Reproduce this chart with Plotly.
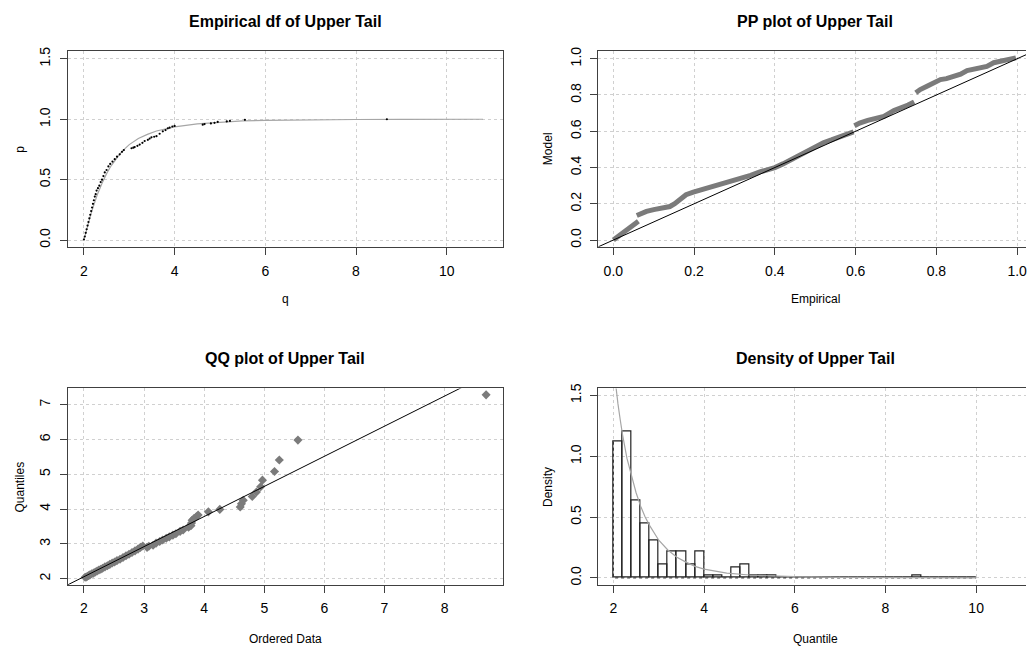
import plotly.graph_objects as go

W, H = 1027, 654
FONT = "Liberation Sans, Arial, sans-serif"

# ---------------- data ----------------
# Panel 1: empirical distribution function
ecdf_q = [2.00, 2.02, 2.04, 2.06, 2.08, 2.10, 2.12, 2.14, 2.16, 2.18, 2.20, 2.22, 2.24, 2.26, 2.28,
          2.31, 2.34, 2.37, 2.40, 2.43, 2.46, 2.50, 2.54, 2.58, 2.63, 2.68, 2.73, 2.79, 2.84, 2.88,
          3.05, 3.09, 3.12, 3.18, 3.23, 3.29, 3.34, 3.41, 3.45, 3.49, 3.55, 3.60, 3.67, 3.74, 3.80,
          3.85, 3.89, 3.95, 4.00, 4.62, 4.66, 4.80, 4.88, 4.95, 5.15, 5.22, 5.55, 8.68]
ecdf_p = [0.005, 0.03, 0.06, 0.09, 0.12, 0.15, 0.18, 0.21, 0.24, 0.27, 0.30, 0.33, 0.36, 0.38, 0.41,
          0.43, 0.45, 0.48, 0.50, 0.53, 0.56, 0.58, 0.61, 0.63, 0.65, 0.67, 0.69, 0.71, 0.73, 0.745,
          0.76, 0.765, 0.77, 0.78, 0.79, 0.805, 0.82, 0.83, 0.84, 0.85, 0.855, 0.86, 0.88, 0.90, 0.91,
          0.925, 0.93, 0.94, 0.945, 0.955, 0.96, 0.965, 0.97, 0.978, 0.982, 0.986, 0.995, 1.0]
cdf_q = [2.0, 2.05, 2.1, 2.15, 2.2, 2.3, 2.4, 2.5, 2.6, 2.7, 2.8, 2.9, 3.0, 3.2, 3.4, 3.6, 3.8,
         4.0, 4.5, 5.0, 5.5, 6.0, 7.0, 8.0, 9.0, 10.8]
cdf_p = [0.0, 0.075, 0.145, 0.21, 0.27, 0.38, 0.47, 0.55, 0.615, 0.67, 0.715, 0.755, 0.79, 0.84,
         0.875, 0.903, 0.922, 0.937, 0.962, 0.977, 0.986, 0.991, 0.996, 0.998, 0.999, 1.0]

# Panel 2: PP plot (None separates the visible jumps)
pp_emp = [0.0, 0.01, 0.02, 0.03, 0.04, 0.05, 0.062, None,
          0.058, 0.07, 0.082, 0.10, 0.115, 0.13, 0.14, 0.152, 0.165, 0.18, 0.198, 0.22, 0.24,
          0.26, 0.28, 0.30, 0.313, 0.34, 0.363, 0.38, 0.40, 0.42, 0.445, 0.465, 0.482, 0.50,
          0.52, 0.54, 0.563, 0.58, 0.595, None,
          0.597, 0.61, 0.63, 0.65, 0.67, 0.695, 0.715, 0.73, 0.745, None,
          0.749, 0.76, 0.778, 0.795, 0.81, 0.825, 0.843, 0.86, 0.876, 0.895, 0.909, 0.925,
          0.942, 0.96, 0.975, 0.99, 0.997]
pp_model = [0.0, 0.016, 0.034, 0.05, 0.068, 0.085, 0.104, None,
            0.135, 0.147, 0.158, 0.168, 0.176, 0.18, 0.185, 0.20, 0.22, 0.25, 0.264, 0.278, 0.29,
            0.30, 0.313, 0.325, 0.34, 0.357, 0.376, 0.386, 0.40, 0.42, 0.45, 0.472, 0.495, 0.52,
            0.537, 0.552, 0.572, 0.585, 0.597, None,
            0.63, 0.645, 0.66, 0.668, 0.682, 0.715, 0.73, 0.745, 0.762, None,
            0.812, 0.83, 0.85, 0.868, 0.885, 0.89, 0.9, 0.915, 0.935, 0.945, 0.951, 0.958,
            0.978, 0.985, 0.991, 0.997, 1.005]
pp_ref = [-0.1, 1.1]

# Panel 3: QQ plot
qq_data = [2.02, 2.04, 2.06, 2.08, 2.10, 2.13, 2.16, 2.19, 2.22, 2.25, 2.28, 2.31, 2.35, 2.39,
           2.43, 2.47, 2.51, 2.55, 2.60, 2.65, 2.70, 2.75, 2.80, 2.85, 2.90, 2.94, 2.98,
           3.05, 3.08, 3.15, 3.20, 3.26, 3.31, 3.37, 3.42, 3.48, 3.53, 3.60, 3.65, 3.74, 3.78,
           3.79, 3.80, 3.83, 3.87, 3.90, 4.07, 4.26, 4.60, 4.62, 4.65, 4.80, 4.87, 4.94, 4.97,
           5.17, 5.25, 5.56, 8.69]
qq_model = [2.04, 2.05, 2.07, 2.09, 2.11, 2.14, 2.16, 2.19, 2.22, 2.25, 2.27, 2.30, 2.34, 2.37,
            2.41, 2.45, 2.48, 2.52, 2.56, 2.61, 2.66, 2.70, 2.75, 2.80, 2.85, 2.90, 2.94,
            2.90, 2.93, 2.96, 3.02, 3.07, 3.11, 3.16, 3.20, 3.25, 3.29, 3.36, 3.40, 3.48, 3.52,
            3.60, 3.68, 3.73, 3.78, 3.83, 3.92, 3.99, 4.06, 4.15, 4.25, 4.36, 4.49, 4.64, 4.83,
            5.08, 5.41, 5.98, 7.28]
qq_ref_x = [1.60, 9.00]
qq_ref_y = [1.71, 8.11]

# Panel 4: histogram (bin starts, width 0.2) and model density
bin_start = [2.0, 2.2, 2.4, 2.6, 2.8, 3.0, 3.2, 3.4, 3.6, 3.8, 4.0, 4.2, 4.4, 4.6, 4.8, 5.0, 5.2,
             5.4, 5.6, 5.8, 6.0, 6.2, 6.4, 6.6, 6.8, 7.0, 7.2, 7.4, 7.6, 7.8, 8.0, 8.2, 8.4, 8.6,
             8.8, 9.0, 9.2, 9.4, 9.6, 9.8]
bin_density = [1.12, 1.20, 0.64, 0.45, 0.31, 0.11, 0.22, 0.22, 0.11, 0.22, 0.022, 0.022, 0.0,
               0.087, 0.11, 0.022, 0.022, 0.022, 0, 0, 0, 0, 0, 0, 0, 0, 0, 0, 0, 0, 0, 0, 0,
               0.022, 0, 0, 0, 0, 0, 0]
dens_x = [2.0, 2.05, 2.1, 2.15, 2.2, 2.3, 2.4, 2.5, 2.6, 2.7, 2.8, 3.0, 3.2, 3.4, 3.6, 3.8, 4.0,
          4.5, 5.0, 5.5, 6.0, 7.0, 8.0, 9.0, 10.0]
dens_y = [1.75, 1.58, 1.43, 1.30, 1.18, 0.98, 0.83, 0.70, 0.59, 0.50, 0.43, 0.31, 0.23, 0.17,
          0.13, 0.095, 0.072, 0.04, 0.024, 0.015, 0.01, 0.005, 0.003, 0.002, 0.001]
base_x = [2.0, 2.0, 10.0]
base_y = [1.12, 0.0, 0.0]

titles = ["Empirical df of Upper Tail", "PP plot of Upper Tail",
          "QQ plot of Upper Tail", "Density of Upper Tail"]
xlabels = ["q", "Empirical", "Ordered Data", "Quantile"]
ylabels = ["p", "Model", "Quantiles", "Density"]

# ---------------- figure ----------------
fig = go.Figure()
GRAY_PT = "#7b7b7b"
GRAY_LN = "#a6a6a6"

fig.add_trace(go.Scatter(x=cdf_q, y=cdf_p, mode="lines", line=dict(color=GRAY_LN, width=1.2),
                         xaxis="x", yaxis="y"))
fig.add_trace(go.Scatter(x=ecdf_q, y=ecdf_p, mode="markers",
                         marker=dict(color="black", size=2.2), xaxis="x", yaxis="y"))

fig.add_trace(go.Scatter(x=pp_emp, y=pp_model, mode="lines", connectgaps=False,
                         line=dict(color=GRAY_PT, width=5), xaxis="x2", yaxis="y2"))
fig.add_trace(go.Scatter(x=pp_ref, y=pp_ref, mode="lines", line=dict(color="black", width=1),
                         xaxis="x2", yaxis="y2"))

fig.add_trace(go.Scatter(x=qq_data, y=qq_model, mode="markers",
                         marker=dict(color=GRAY_PT, size=7, symbol="diamond"),
                         xaxis="x3", yaxis="y3"))
fig.add_trace(go.Scatter(x=qq_ref_x, y=qq_ref_y, mode="lines", line=dict(color="black", width=1),
                         xaxis="x3", yaxis="y3"))

fig.add_trace(go.Bar(x=bin_start, y=bin_density, width=0.2, offset=0,
                     marker=dict(color="rgba(0,0,0,0)", line=dict(color="#222222", width=1.2)),
                     xaxis="x4", yaxis="y4"))
fig.add_trace(go.Scatter(x=base_x, y=base_y, mode="lines",
                         line=dict(color="#333333", width=1, dash="dot"), xaxis="x4", yaxis="y4"))
fig.add_trace(go.Scatter(x=dens_x, y=dens_y, mode="lines", line=dict(color=GRAY_LN, width=1.2),
                         xaxis="x4", yaxis="y4"))


def ax(**kw):
    d = dict(showline=True, linecolor="#404040", linewidth=1, mirror=True,
             ticks="outside", ticklen=7, tickcolor="#404040", tickwidth=1,
             showgrid=True, gridcolor="#d0d0d0", griddash="dot", gridwidth=1,
             zeroline=False, tickfont=dict(family=FONT, size=14, color="black"),
             ticklabelstandoff=4, fixedrange=True, ticklabeloverflow="allow")
    d.update(kw)
    return d


L = [68 / W, 503 / W]
R = [599 / W, 1.0]
TOP = [1 - 244 / H, 1 - 46 / H]
BOT = [1 - 585 / H, 1 - 387 / H]

fig.update_layout(
    width=W, height=H, margin=dict(l=0, r=0, t=0, b=0),
    paper_bgcolor="white", plot_bgcolor="white", showlegend=False,
    barmode="overlay", bargap=0,
    xaxis=ax(domain=L, anchor="y", range=[1.648, 11.23], tickvals=[2, 4, 6, 8, 10]),
    yaxis=ax(domain=TOP, anchor="x", range=[-0.055, 1.568], tickvals=[0, 0.5, 1, 1.5],
             ticktext=["0.0", "0.5", "1.0", "1.5"], tickangle=-90),
    xaxis2=ax(domain=R, anchor="y2", range=[-0.037, 1.022],
              tickvals=[0, 0.2, 0.4, 0.6, 0.8, 1.0],
              ticktext=["0.0", "0.2", "0.4", "0.6", "0.8", "1.0"]),
    yaxis2=ax(domain=TOP, anchor="x2", range=[-0.037, 1.045], mirror=False,
              tickvals=[0, 0.2, 0.4, 0.6, 0.8, 1.0],
              ticktext=["0.0", "0.2", "0.4", "0.6", "0.8", "1.0"], tickangle=-90),
    xaxis3=ax(domain=L, anchor="y3", range=[1.734, 8.963], tickvals=[2, 3, 4, 5, 6, 7, 8]),
    yaxis3=ax(domain=BOT, anchor="x3", range=[1.829, 7.464], tickvals=[2, 3, 4, 5, 6, 7],
              tickangle=-90),
    xaxis4=ax(domain=R, anchor="y4", range=[1.669, 11.10], tickvals=[2, 4, 6, 8, 10]),
    yaxis4=ax(domain=BOT, anchor="x4", range=[-0.055, 1.557], mirror=False,
              tickvals=[0, 0.5, 1, 1.5], ticktext=["0.0", "0.5", "1.0", "1.5"], tickangle=-90),
)

# titles and axis labels
cx = [285.5, 816, 285.5, 816]
ty = [17, 17, 357, 357]
xy = [297, 297, 640, 640]
yx = [20, 548, 20, 548]
cy = [145, 145, 486, 486]
ann = []
for i in range(4):
    ann.append(dict(text="<b>%s</b>" % titles[i], x=cx[i] / W, y=1 - ty[i] / H, xref="paper",
                    yref="paper", showarrow=False, xanchor="center", yanchor="middle",
                    font=dict(family=FONT, size=16, color="black")))
    ann.append(dict(text=xlabels[i], x=cx[i] / W, y=1 - xy[i] / H, xref="paper", yref="paper",
                    showarrow=False, xanchor="center", yanchor="middle",
                    font=dict(family=FONT, size=12, color="black")))
    ann.append(dict(text=ylabels[i], x=yx[i] / W, y=1 - cy[i] / H, xref="paper", yref="paper",
                    showarrow=False, xanchor="center", yanchor="middle", textangle=-90,
                    font=dict(family=FONT, size=12, color="black")))
fig.update_layout(annotations=ann)

fig.write_html("out.html")
